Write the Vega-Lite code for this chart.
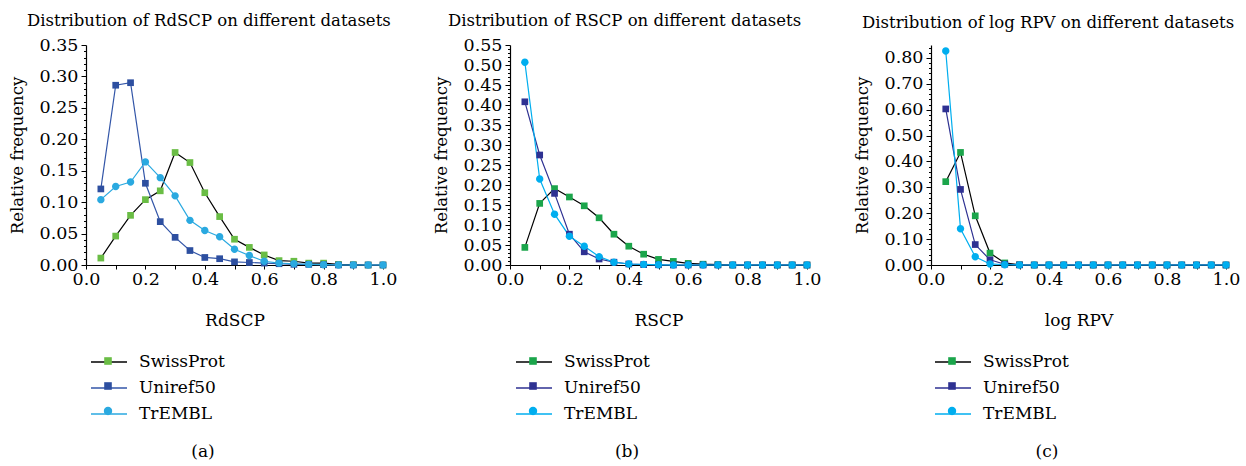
{
  "$schema": "https://vega.github.io/schema/vega-lite/v6.json",
  "padding": {"left": 9, "top": 12, "right": 4, "bottom": 0},
  "spacing": 36,
  "config": {
    "view": {"stroke": null},
    "font": "DejaVu Serif",
    "title": {"font": "DejaVu Serif", "fontWeight": "normal", "color": "#000000"},
    "axis": {
      "grid": false,
      "domainColor": "#000000",
      "domainWidth": 1.2,
      "tickColor": "#000000",
      "tickWidth": 1,
      "labelFont": "DejaVu Serif",
      "labelFontSize": 17.5,
      "labelColor": "#000000",
      "labelOverlap": false,
      "labelFlush": false,
      "labelBound": false,
      "titleFont": "DejaVu Serif",
      "titleFontWeight": "normal",
      "titleColor": "#000000"
    },
    "legend": {
      "labelFont": "DejaVu Serif",
      "labelFontSize": 17,
      "labelColor": "#000000",
      "labelLimit": 300
    }
  },
  "resolve": {
    "scale": {"x": "independent", "y": "independent", "stroke": "independent", "fill": "independent", "shape": "independent"},
    "legend": {"stroke": "independent", "fill": "independent", "shape": "independent"},
    "axis": {"x": "independent", "y": "independent"}
  },
  "datasets": {
    "a": [
      {"x": 0.05, "freq": 0.011, "series": "SwissProt"}, {"x": 0.1, "freq": 0.046, "series": "SwissProt"}, {"x": 0.15, "freq": 0.079, "series": "SwissProt"}, {"x": 0.2, "freq": 0.104, "series": "SwissProt"}, {"x": 0.25, "freq": 0.118, "series": "SwissProt"}, {"x": 0.3, "freq": 0.179, "series": "SwissProt"}, {"x": 0.35, "freq": 0.163, "series": "SwissProt"}, {"x": 0.4, "freq": 0.115, "series": "SwissProt"}, {"x": 0.45, "freq": 0.077, "series": "SwissProt"}, {"x": 0.5, "freq": 0.041, "series": "SwissProt"}, {"x": 0.55, "freq": 0.028, "series": "SwissProt"}, {"x": 0.6, "freq": 0.016, "series": "SwissProt"}, {"x": 0.65, "freq": 0.007, "series": "SwissProt"}, {"x": 0.7, "freq": 0.006, "series": "SwissProt"}, {"x": 0.75, "freq": 0.003, "series": "SwissProt"}, {"x": 0.8, "freq": 0.003, "series": "SwissProt"}, {"x": 0.85, "freq": 0.001, "series": "SwissProt"}, {"x": 0.9, "freq": 0.0005, "series": "SwissProt"}, {"x": 0.95, "freq": 0, "series": "SwissProt"}, {"x": 1.0, "freq": 0, "series": "SwissProt"},
      {"x": 0.05, "freq": 0.121, "series": "Uniref50"}, {"x": 0.1, "freq": 0.286, "series": "Uniref50"}, {"x": 0.15, "freq": 0.290, "series": "Uniref50"}, {"x": 0.2, "freq": 0.130, "series": "Uniref50"}, {"x": 0.25, "freq": 0.069, "series": "Uniref50"}, {"x": 0.3, "freq": 0.044, "series": "Uniref50"}, {"x": 0.35, "freq": 0.023, "series": "Uniref50"}, {"x": 0.4, "freq": 0.012, "series": "Uniref50"}, {"x": 0.45, "freq": 0.010, "series": "Uniref50"}, {"x": 0.5, "freq": 0.005, "series": "Uniref50"}, {"x": 0.55, "freq": 0.004, "series": "Uniref50"}, {"x": 0.6, "freq": 0.003, "series": "Uniref50"}, {"x": 0.65, "freq": 0.002, "series": "Uniref50"}, {"x": 0.7, "freq": 0.001, "series": "Uniref50"}, {"x": 0.75, "freq": 0.001, "series": "Uniref50"}, {"x": 0.8, "freq": 0.0005, "series": "Uniref50"}, {"x": 0.85, "freq": 0, "series": "Uniref50"}, {"x": 0.9, "freq": 0, "series": "Uniref50"}, {"x": 0.95, "freq": 0, "series": "Uniref50"}, {"x": 1.0, "freq": 0, "series": "Uniref50"},
      {"x": 0.05, "freq": 0.104, "series": "TrEMBL"}, {"x": 0.1, "freq": 0.125, "series": "TrEMBL"}, {"x": 0.15, "freq": 0.132, "series": "TrEMBL"}, {"x": 0.2, "freq": 0.164, "series": "TrEMBL"}, {"x": 0.25, "freq": 0.139, "series": "TrEMBL"}, {"x": 0.3, "freq": 0.110, "series": "TrEMBL"}, {"x": 0.35, "freq": 0.071, "series": "TrEMBL"}, {"x": 0.4, "freq": 0.055, "series": "TrEMBL"}, {"x": 0.45, "freq": 0.045, "series": "TrEMBL"}, {"x": 0.5, "freq": 0.025, "series": "TrEMBL"}, {"x": 0.55, "freq": 0.015, "series": "TrEMBL"}, {"x": 0.6, "freq": 0.006, "series": "TrEMBL"}, {"x": 0.65, "freq": 0.003, "series": "TrEMBL"}, {"x": 0.7, "freq": 0.002, "series": "TrEMBL"}, {"x": 0.75, "freq": 0.001, "series": "TrEMBL"}, {"x": 0.8, "freq": 0.0005, "series": "TrEMBL"}, {"x": 0.85, "freq": 0, "series": "TrEMBL"}, {"x": 0.9, "freq": 0, "series": "TrEMBL"}, {"x": 0.95, "freq": 0, "series": "TrEMBL"}, {"x": 1.0, "freq": 0, "series": "TrEMBL"}
    ],
    "b": [
      {"x": 0.05, "freq": 0.044, "series": "SwissProt"}, {"x": 0.1, "freq": 0.154, "series": "SwissProt"}, {"x": 0.15, "freq": 0.191, "series": "SwissProt"}, {"x": 0.2, "freq": 0.170, "series": "SwissProt"}, {"x": 0.25, "freq": 0.148, "series": "SwissProt"}, {"x": 0.3, "freq": 0.118, "series": "SwissProt"}, {"x": 0.35, "freq": 0.077, "series": "SwissProt"}, {"x": 0.4, "freq": 0.047, "series": "SwissProt"}, {"x": 0.45, "freq": 0.027, "series": "SwissProt"}, {"x": 0.5, "freq": 0.014, "series": "SwissProt"}, {"x": 0.55, "freq": 0.009, "series": "SwissProt"}, {"x": 0.6, "freq": 0.004, "series": "SwissProt"}, {"x": 0.65, "freq": 0.002, "series": "SwissProt"}, {"x": 0.7, "freq": 0.001, "series": "SwissProt"}, {"x": 0.75, "freq": 0, "series": "SwissProt"}, {"x": 0.8, "freq": 0, "series": "SwissProt"}, {"x": 0.85, "freq": 0, "series": "SwissProt"}, {"x": 0.9, "freq": 0, "series": "SwissProt"}, {"x": 0.95, "freq": 0, "series": "SwissProt"}, {"x": 1.0, "freq": 0, "series": "SwissProt"},
      {"x": 0.05, "freq": 0.408, "series": "Uniref50"}, {"x": 0.1, "freq": 0.275, "series": "Uniref50"}, {"x": 0.15, "freq": 0.179, "series": "Uniref50"}, {"x": 0.2, "freq": 0.077, "series": "Uniref50"}, {"x": 0.25, "freq": 0.033, "series": "Uniref50"}, {"x": 0.3, "freq": 0.015, "series": "Uniref50"}, {"x": 0.35, "freq": 0.007, "series": "Uniref50"}, {"x": 0.4, "freq": 0.0025, "series": "Uniref50"}, {"x": 0.45, "freq": 0.001, "series": "Uniref50"}, {"x": 0.5, "freq": 0.0005, "series": "Uniref50"}, {"x": 0.55, "freq": 0, "series": "Uniref50"}, {"x": 0.6, "freq": 0, "series": "Uniref50"}, {"x": 0.65, "freq": 0, "series": "Uniref50"}, {"x": 0.7, "freq": 0, "series": "Uniref50"}, {"x": 0.75, "freq": 0, "series": "Uniref50"}, {"x": 0.8, "freq": 0, "series": "Uniref50"}, {"x": 0.85, "freq": 0, "series": "Uniref50"}, {"x": 0.9, "freq": 0, "series": "Uniref50"}, {"x": 0.95, "freq": 0, "series": "Uniref50"}, {"x": 1.0, "freq": 0, "series": "Uniref50"},
      {"x": 0.05, "freq": 0.507, "series": "TrEMBL"}, {"x": 0.1, "freq": 0.215, "series": "TrEMBL"}, {"x": 0.15, "freq": 0.127, "series": "TrEMBL"}, {"x": 0.2, "freq": 0.072, "series": "TrEMBL"}, {"x": 0.25, "freq": 0.047, "series": "TrEMBL"}, {"x": 0.3, "freq": 0.021, "series": "TrEMBL"}, {"x": 0.35, "freq": 0.007, "series": "TrEMBL"}, {"x": 0.4, "freq": 0.0025, "series": "TrEMBL"}, {"x": 0.45, "freq": 0.0015, "series": "TrEMBL"}, {"x": 0.5, "freq": 0.0005, "series": "TrEMBL"}, {"x": 0.55, "freq": 0, "series": "TrEMBL"}, {"x": 0.6, "freq": 0, "series": "TrEMBL"}, {"x": 0.65, "freq": 0, "series": "TrEMBL"}, {"x": 0.7, "freq": 0, "series": "TrEMBL"}, {"x": 0.75, "freq": 0, "series": "TrEMBL"}, {"x": 0.8, "freq": 0, "series": "TrEMBL"}, {"x": 0.85, "freq": 0, "series": "TrEMBL"}, {"x": 0.9, "freq": 0, "series": "TrEMBL"}, {"x": 0.95, "freq": 0, "series": "TrEMBL"}, {"x": 1.0, "freq": 0, "series": "TrEMBL"}
    ],
    "c": [
      {"x": 0.05, "freq": 0.322, "series": "SwissProt"}, {"x": 0.1, "freq": 0.435, "series": "SwissProt"}, {"x": 0.15, "freq": 0.190, "series": "SwissProt"}, {"x": 0.2, "freq": 0.046, "series": "SwissProt"}, {"x": 0.25, "freq": 0.008, "series": "SwissProt"}, {"x": 0.3, "freq": 0.001, "series": "SwissProt"}, {"x": 0.35, "freq": 0, "series": "SwissProt"}, {"x": 0.4, "freq": 0, "series": "SwissProt"}, {"x": 0.45, "freq": 0, "series": "SwissProt"}, {"x": 0.5, "freq": 0, "series": "SwissProt"}, {"x": 0.55, "freq": 0, "series": "SwissProt"}, {"x": 0.6, "freq": 0, "series": "SwissProt"}, {"x": 0.65, "freq": 0, "series": "SwissProt"}, {"x": 0.7, "freq": 0, "series": "SwissProt"}, {"x": 0.75, "freq": 0, "series": "SwissProt"}, {"x": 0.8, "freq": 0, "series": "SwissProt"}, {"x": 0.85, "freq": 0, "series": "SwissProt"}, {"x": 0.9, "freq": 0, "series": "SwissProt"}, {"x": 0.95, "freq": 0, "series": "SwissProt"}, {"x": 1.0, "freq": 0, "series": "SwissProt"},
      {"x": 0.05, "freq": 0.603, "series": "Uniref50"}, {"x": 0.1, "freq": 0.292, "series": "Uniref50"}, {"x": 0.15, "freq": 0.079, "series": "Uniref50"}, {"x": 0.2, "freq": 0.020, "series": "Uniref50"}, {"x": 0.25, "freq": 0.003, "series": "Uniref50"}, {"x": 0.3, "freq": 0.0005, "series": "Uniref50"}, {"x": 0.35, "freq": 0, "series": "Uniref50"}, {"x": 0.4, "freq": 0, "series": "Uniref50"}, {"x": 0.45, "freq": 0, "series": "Uniref50"}, {"x": 0.5, "freq": 0, "series": "Uniref50"}, {"x": 0.55, "freq": 0, "series": "Uniref50"}, {"x": 0.6, "freq": 0, "series": "Uniref50"}, {"x": 0.65, "freq": 0, "series": "Uniref50"}, {"x": 0.7, "freq": 0, "series": "Uniref50"}, {"x": 0.75, "freq": 0, "series": "Uniref50"}, {"x": 0.8, "freq": 0, "series": "Uniref50"}, {"x": 0.85, "freq": 0, "series": "Uniref50"}, {"x": 0.9, "freq": 0, "series": "Uniref50"}, {"x": 0.95, "freq": 0, "series": "Uniref50"}, {"x": 1.0, "freq": 0, "series": "Uniref50"},
      {"x": 0.05, "freq": 0.827, "series": "TrEMBL"}, {"x": 0.1, "freq": 0.140, "series": "TrEMBL"}, {"x": 0.15, "freq": 0.032, "series": "TrEMBL"}, {"x": 0.2, "freq": 0.004, "series": "TrEMBL"}, {"x": 0.25, "freq": 0.001, "series": "TrEMBL"}, {"x": 0.3, "freq": 0, "series": "TrEMBL"}, {"x": 0.35, "freq": 0, "series": "TrEMBL"}, {"x": 0.4, "freq": 0, "series": "TrEMBL"}, {"x": 0.45, "freq": 0, "series": "TrEMBL"}, {"x": 0.5, "freq": 0, "series": "TrEMBL"}, {"x": 0.55, "freq": 0, "series": "TrEMBL"}, {"x": 0.6, "freq": 0, "series": "TrEMBL"}, {"x": 0.65, "freq": 0, "series": "TrEMBL"}, {"x": 0.7, "freq": 0, "series": "TrEMBL"}, {"x": 0.75, "freq": 0, "series": "TrEMBL"}, {"x": 0.8, "freq": 0, "series": "TrEMBL"}, {"x": 0.85, "freq": 0, "series": "TrEMBL"}, {"x": 0.9, "freq": 0, "series": "TrEMBL"}, {"x": 0.95, "freq": 0, "series": "TrEMBL"}, {"x": 1.0, "freq": 0, "series": "TrEMBL"}
    ]
  },
  "hconcat": [
    {
      "title": {"text": "(a)", "orient": "bottom", "anchor": "middle", "fontSize": 17, "offset": 22},
      "resolve": {"scale": {"stroke": "independent", "fill": "independent", "shape": "independent"}, "legend": {"stroke": "independent", "fill": "independent", "shape": "independent"}},
      "vconcat": [
        {
          "width": 297, "height": 220,
          "title": {"text": "Distribution of RdSCP on different datasets", "anchor": "start", "frame": "bounds", "dx": 18, "fontSize": 16.5, "offset": 7},
          "data": {"name": "a"},
          "encoding": {
            "x": {"field": "x", "type": "quantitative", "scale": {"domain": [0, 1], "nice": false},
              "axis": {"title": "RdSCP", "titleFontSize": 17, "titlePadding": 25, "values": [0, 0.1, 0.2, 0.3, 0.4, 0.5, 0.6, 0.7, 0.8, 0.9, 1.0],
                "labelExpr": "round(datum.value*10)%2==0 ? format(datum.value,'.1f') : ''", "tickSize": 4, "labelPadding": 1}},
            "y": {"field": "freq", "type": "quantitative", "scale": {"domain": [0, 0.35], "nice": false},
              "axis": {"title": "Relative frequency", "titleFontSize": 16.5, "titlePadding": 14, "tickCount": 35,
                "labelExpr": "abs(round(datum.value*100)%5)<0.5 ? format(datum.value,'.2f') : ''",
                "tickSize": {"condition": {"test": "abs(round(datum.value*100)%5)<0.5", "value": 5}, "value": 2.5}, "labelPadding": 3}}
          },
          "layer": [
            {
              "mark": {"type": "line", "strokeWidth": 1.2},
              "encoding": {
                "stroke": {"field": "series", "type": "nominal", "sort": ["SwissProt", "Uniref50", "TrEMBL"],
                  "scale": {"range": ["#000000", "#3356a8", "#2aa9e0"]},
                  "legend": {"orient": "none", "legendX": 12, "legendY": 306, "title": null, "padding": 0, "rowPadding": 7,
                    "symbolType": "M-1.8,0H1.8", "symbolSize": 400, "symbolStrokeWidth": 1.3, "labelOffset": 19, "zindex": 0}
                }
              }
            },
            {
              "mark": {"type": "point", "filled": true, "size": 310, "opacity": 1, "strokeWidth": 0},
              "encoding": {
                "fill": {"field": "series", "type": "nominal",
                  "scale": {"domain": ["SwissProt", "Uniref50", "TrEMBL"], "range": ["#6abd45", "#2d4fa0", "#2aa9e0"]},
                  "legend": {"orient": "none", "legendX": 12, "legendY": 306, "title": null, "padding": 0, "rowPadding": 7,
                    "symbolSize": 400, "symbolStrokeWidth": 0, "labelOffset": 19, "labelExpr": "''", "zindex": 1}
                },
                "shape": {"field": "series", "type": "nominal",
                  "scale": {"domain": ["SwissProt", "Uniref50", "TrEMBL"], "range": ["M-0.38,-0.38H0.38V0.38H-0.38Z", "M-0.38,-0.38H0.38V0.38H-0.38Z", "M0.42,0A0.42,0.42 0 1,1 -0.42,0A0.42,0.42 0 1,1 0.42,0Z"]},
                  "legend": {"orient": "none", "legendX": 12, "legendY": 306, "title": null, "padding": 0, "rowPadding": 7,
                    "symbolSize": 400, "symbolStrokeWidth": 0, "labelOffset": 19, "labelExpr": "''", "zindex": 1}
                }
              }
            }
          ]
        }
      ]
    },
    {
      "spacing": 33,
      "resolve": {
        "scale": {"x": "independent", "y": "independent", "stroke": "independent", "fill": "independent", "shape": "independent"},
        "legend": {"stroke": "independent", "fill": "independent", "shape": "independent"},
        "axis": {"x": "independent", "y": "independent"}
      },
      "hconcat": [
        {
          "title": {"text": "(b)", "orient": "bottom", "anchor": "middle", "fontSize": 17, "offset": 22},
          "resolve": {"scale": {"stroke": "independent", "fill": "independent", "shape": "independent"}, "legend": {"stroke": "independent", "fill": "independent", "shape": "independent"}},
          "vconcat": [
            {
              "width": 297, "height": 220,
              "title": {"text": "Distribution of RSCP on different datasets", "anchor": "start", "frame": "bounds", "dx": 15, "fontSize": 16.5, "offset": 7},
              "data": {"name": "b"},
              "encoding": {
                "x": {"field": "x", "type": "quantitative", "scale": {"domain": [0, 1], "nice": false},
                  "axis": {"title": "RSCP", "titleFontSize": 17, "titlePadding": 25, "values": [0, 0.1, 0.2, 0.3, 0.4, 0.5, 0.6, 0.7, 0.8, 0.9, 1.0],
                    "labelExpr": "round(datum.value*10)%2==0 ? format(datum.value,'.1f') : ''", "tickSize": 4, "labelPadding": 1}},
                "y": {"field": "freq", "type": "quantitative", "scale": {"domain": [0, 0.55], "nice": false},
                  "axis": {"title": "Relative frequency", "titleFontSize": 16.5, "titlePadding": 14, "tickCount": 55,
                    "labelExpr": "abs(round(datum.value*100)%5)<0.5 ? format(datum.value,'.2f') : ''",
                    "tickSize": {"condition": {"test": "abs(round(datum.value*100)%5)<0.5", "value": 5}, "value": 2.5}, "labelPadding": 3}}
              },
              "layer": [
                {
                  "mark": {"type": "line", "strokeWidth": 1.2},
                  "encoding": {
                    "stroke": {"field": "series", "type": "nominal", "sort": ["SwissProt", "Uniref50", "TrEMBL"],
                      "scale": {"range": ["#000000", "#2e3192", "#00aeef"]},
                      "legend": {"orient": "none", "legendX": 13, "legendY": 306, "title": null, "padding": 0, "rowPadding": 7,
                        "symbolType": "M-1.8,0H1.8", "symbolSize": 400, "symbolStrokeWidth": 1.3, "labelOffset": 19, "zindex": 0}
                    }
                  }
                },
                {
                  "mark": {"type": "point", "filled": true, "size": 310, "opacity": 1, "strokeWidth": 0},
                  "encoding": {
                    "fill": {"field": "series", "type": "nominal",
                      "scale": {"domain": ["SwissProt", "Uniref50", "TrEMBL"], "range": ["#1ba54b", "#2e3192", "#00aeef"]},
                      "legend": {"orient": "none", "legendX": 13, "legendY": 306, "title": null, "padding": 0, "rowPadding": 7,
                        "symbolSize": 400, "symbolStrokeWidth": 0, "labelOffset": 19, "labelExpr": "''", "zindex": 1}
                    },
                    "shape": {"field": "series", "type": "nominal",
                      "scale": {"domain": ["SwissProt", "Uniref50", "TrEMBL"], "range": ["M-0.38,-0.38H0.38V0.38H-0.38Z", "M-0.38,-0.38H0.38V0.38H-0.38Z", "M0.42,0A0.42,0.42 0 1,1 -0.42,0A0.42,0.42 0 1,1 0.42,0Z"]},
                      "legend": {"orient": "none", "legendX": 13, "legendY": 306, "title": null, "padding": 0, "rowPadding": 7,
                        "symbolSize": 400, "symbolStrokeWidth": 0, "labelOffset": 19, "labelExpr": "''", "zindex": 1}
                    }
                  }
                }
              ]
            }
          ]
        },
        {
          "title": {"text": "(c)", "orient": "bottom", "anchor": "middle", "fontSize": 17, "offset": 22},
          "resolve": {"scale": {"stroke": "independent", "fill": "independent", "shape": "independent"}, "legend": {"stroke": "independent", "fill": "independent", "shape": "independent"}},
          "vconcat": [
            {
              "width": 295, "height": 220,
              "title": {"text": "Distribution of log RPV on different datasets", "anchor": "start", "frame": "bounds", "dx": 8, "fontSize": 16.5, "offset": 7},
              "data": {"name": "c"},
              "encoding": {
                "x": {"field": "x", "type": "quantitative", "scale": {"domain": [0, 1], "nice": false},
                  "axis": {"title": "log RPV", "titleFontSize": 17, "titlePadding": 25, "values": [0, 0.1, 0.2, 0.3, 0.4, 0.5, 0.6, 0.7, 0.8, 0.9, 1.0],
                    "labelExpr": "round(datum.value*10)%2==0 ? format(datum.value,'.1f') : ''", "tickSize": 4, "labelPadding": 1}},
                "y": {"field": "freq", "type": "quantitative", "scale": {"domain": [0, 0.85], "nice": false},
                  "axis": {"title": "Relative frequency", "titleFontSize": 16.5, "titlePadding": 14, "tickCount": 42,
                    "labelExpr": "abs(round(datum.value*100)%10)<0.5 ? format(datum.value,'.2f') : ''",
                    "tickSize": {"condition": {"test": "abs(round(datum.value*100)%10)<0.5", "value": 5}, "value": 2.5}, "labelPadding": 3}}
              },
              "layer": [
                {
                  "mark": {"type": "line", "strokeWidth": 1.2},
                  "encoding": {
                    "stroke": {"field": "series", "type": "nominal", "sort": ["SwissProt", "Uniref50", "TrEMBL"],
                      "scale": {"range": ["#000000", "#2e3192", "#00aeef"]},
                      "legend": {"orient": "none", "legendX": 11, "legendY": 306, "title": null, "padding": 0, "rowPadding": 7,
                        "symbolType": "M-1.8,0H1.8", "symbolSize": 400, "symbolStrokeWidth": 1.3, "labelOffset": 19, "zindex": 0}
                    }
                  }
                },
                {
                  "mark": {"type": "point", "filled": true, "size": 310, "opacity": 1, "strokeWidth": 0},
                  "encoding": {
                    "fill": {"field": "series", "type": "nominal",
                      "scale": {"domain": ["SwissProt", "Uniref50", "TrEMBL"], "range": ["#1ba54b", "#2e3192", "#00aeef"]},
                      "legend": {"orient": "none", "legendX": 11, "legendY": 306, "title": null, "padding": 0, "rowPadding": 7,
                        "symbolSize": 400, "symbolStrokeWidth": 0, "labelOffset": 19, "labelExpr": "''", "zindex": 1}
                    },
                    "shape": {"field": "series", "type": "nominal",
                      "scale": {"domain": ["SwissProt", "Uniref50", "TrEMBL"], "range": ["M-0.38,-0.38H0.38V0.38H-0.38Z", "M-0.38,-0.38H0.38V0.38H-0.38Z", "M0.42,0A0.42,0.42 0 1,1 -0.42,0A0.42,0.42 0 1,1 0.42,0Z"]},
                      "legend": {"orient": "none", "legendX": 11, "legendY": 306, "title": null, "padding": 0, "rowPadding": 7,
                        "symbolSize": 400, "symbolStrokeWidth": 0, "labelOffset": 19, "labelExpr": "''", "zindex": 1}
                    }
                  }
                }
              ]
            }
          ]
        }
      ]
    }
  ]
}
